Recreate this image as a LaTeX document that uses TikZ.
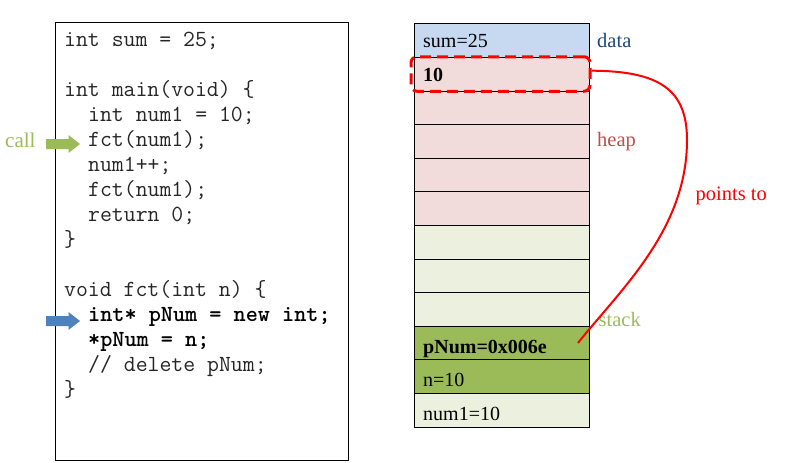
\documentclass[tikz,border=0pt]{standalone}
\usepackage{fontspec}
\setmainfont{Liberation Serif}
\definecolor{datablue}{HTML}{C6D9F1}
\definecolor{heappink}{HTML}{F2DCDB}
\definecolor{stacklight}{HTML}{EBF1DE}
\definecolor{stackgreen}{HTML}{9BBB59}
\definecolor{labelblue}{HTML}{1F497D}
\definecolor{heapred}{HTML}{C0504D}
\definecolor{codegray}{HTML}{262626}
\definecolor{ptrred}{HTML}{FF0000}
\definecolor{callblue}{HTML}{4F81BD}
\begin{document}
\begin{tikzpicture}[x=1pt,y=-1pt,
  codeline/.style={anchor=base west,inner sep=0pt,font=\fontsize{23.1}{25}\ttfamily,text=codegray},
  boldline/.style={codeline,font=\fontsize{23.1}{25}\ttfamily\bfseries,text=black},
  cell/.style={draw=black,line width=0.9pt,minimum width=175pt,minimum height=33.6pt,inner sep=0pt,outer sep=0pt},
  celltext/.style={anchor=base west,inner sep=0pt,font=\fontsize{20}{24}\selectfont},
  seglabel/.style={anchor=base west,inner sep=0pt,font=\fontsize{20.5}{24}\selectfont}]
\useasboundingbox (0,0) rectangle (806,463);
% code box
\node[draw=black,line width=1pt,minimum width=293pt,minimum height=438pt,inner sep=0pt,anchor=north west] (codebox) at (55,22) {};
\node[codeline] (c1) at (64,46.5) {int sum = 25;};
\node[codeline] (c2) at (64,96.5) {int main(void) \{};
\node[codeline] (c3) at (88,121.5) {int num1 = 10;};
\node[codeline] (c4) at (88,146.5) {fct(num1);};
\node[codeline] (c5) at (88,171.5) {num1++;};
\node[codeline] (c6) at (88,196.5) {fct(num1);};
\node[codeline] (c7) at (88,221.5) {return 0;};
\node[codeline] (c8) at (64,246.5) {\}};
\node[codeline] (c9) at (64,296.5) {void fct(int n) \{};
\node[boldline] (c10) at (88,321.5) {int* pNum = new int;};
\node[boldline] (c11) at (88,346.5) {*pNum = n;};
\node[codeline] (c12) at (88,371.5) {// delete pNum;};
\node[codeline] (c13) at (64,396.5) {\}};
% call arrow
\node[seglabel,text=stackgreen,font=\fontsize{21}{24}\selectfont] (calllbl) at (5,147.3) {call};
\fill[stackgreen] (46,139) -- (68.5,139) -- (68.5,135) -- (80,144) -- (68.5,153) -- (68.5,149) -- (46,149) -- cycle;
\fill[callblue] (46,316) -- (68.5,316) -- (68.5,312) -- (80,321) -- (68.5,330) -- (68.5,326) -- (46,326) -- cycle;
% memory cells
\def\rh{33.6}
\node[cell,fill=datablue] (r1) at (502,{23.8+0.5*\rh}) {};
\foreach \i in {2,...,6}{
  \node[cell,fill=heappink] (r\i) at (502,{23.8+(\i-0.5)*\rh}) {};
}
\foreach \i in {7,8,9,12}{
  \node[cell,fill=stacklight] (r\i) at (502,{23.8+(\i-0.5)*\rh}) {};
}
\foreach \i in {10,11}{
  \node[cell,fill=stackgreen] (r\i) at (502,{23.8+(\i-0.5)*\rh}) {};
}
\node[celltext] (t1) at (423,47.5) {sum=25};
\node[celltext,font=\fontsize{20}{24}\selectfont\bfseries] (t2) at (423,81) {10};
\node[celltext,font=\fontsize{20}{24}\selectfont\bfseries] (t10) at (423,353) {pNum=0x006e};
\node[celltext] (t11) at (423,386.5) {n=10};
\node[celltext] (t12) at (423,420) {num1=10};
% segment labels
\node[seglabel,text=labelblue] (ldata) at (597,47.3) {data};
\node[seglabel,text=heapred] (lheap) at (597,146.7) {heap};
\node[seglabel,text=stackgreen] (lstack) at (598.5,326.7) {stack};
\node[seglabel,text=ptrred] (lpoints) at (695.5,200) {points to};
% highlighted heap cell
\node[draw=ptrred,line width=3pt,dash pattern=on 11pt off 6pt,rounded corners=6pt,minimum width=179pt,minimum height=34.5pt,inner sep=0pt] (hilite) at (500.5,74) {};
% pointer curve
\coordinate (pstart) at (hilite.east |- 0,70.7);
\coordinate (pend) at (578,343);
\draw[ptrred,line width=2pt] (pstart) .. controls (660,71) and (687,90) .. (687,140) .. controls (687,230) and (620,290) .. (pend);
\end{tikzpicture}
\end{document}
